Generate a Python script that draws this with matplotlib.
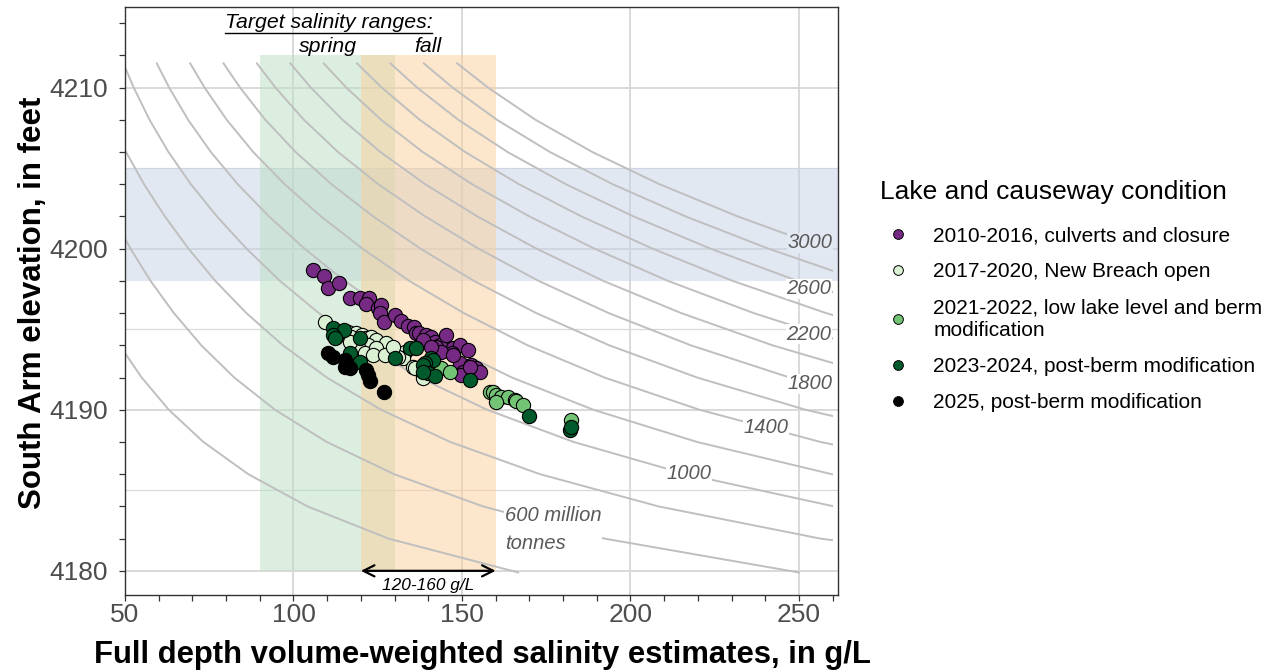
"""South Arm elevation vs. full-depth salinity, with constant salt-load curves."""

import matplotlib
matplotlib.use("Agg")
import matplotlib.pyplot as plt
import numpy as np
from matplotlib.lines import Line2D
from matplotlib.patches import Rectangle

plt.rcParams["font.family"] = ["Liberation Sans", "DejaVu Sans"]

# ---- observations (salinity g/L, elevation ft) ----
culverts_sal = [105.8, 109.1, 110.1, 113.5, 116.7, 119.7, 122.4, 121.4, 125.1, 126.1,
                125.6, 126.9, 130.0, 132.0, 134.0, 135.7, 136.3, 137.4, 139.4, 140.9,
                141.9, 143.4, 145.4, 147.3, 149.3, 151.8, 146.9, 149.3, 152.8, 154.3,
                155.3, 150.3, 142.4, 143.9, 138.5, 140.9, 147.3, 149.8, 152.3]
culverts_elev = [4198.67, 4198.32, 4197.54, 4197.85, 4196.92, 4196.92, 4196.92, 4196.55, 4196.30, 4196.50,
                 4195.99, 4195.47, 4195.88, 4195.53, 4195.22, 4195.16, 4194.75, 4194.75, 4194.64, 4194.54,
                 4194.23, 4194.02, 4194.64, 4193.82, 4194.02, 4193.71, 4193.51, 4192.89, 4192.78, 4192.58,
                 4192.37, 4192.37, 4193.92, 4193.61, 4194.33, 4193.92, 4193.40, 4192.16, 4192.68]

breach_sal = [109.5, 112.7, 116.2, 118.7, 117.2, 120.2, 121.6, 123.1, 124.6, 127.6,
              122.1, 119.1, 116.7, 121.1, 124.6, 123.6, 127.1, 133.0, 132.5, 131.0,
              135.5, 136.0, 138.4, 138.4, 129.6]
breach_elev = [4195.47, 4194.54, 4194.85, 4194.75, 4194.54, 4194.64, 4194.44, 4194.54, 4194.33, 4194.13,
               4194.02, 4193.92, 4194.23, 4193.51, 4193.82, 4193.40, 4193.40, 4193.61, 4193.20, 4193.30,
               4192.68, 4192.58, 4192.16, 4191.96, 4193.90]

lowlake_sal = [143.9, 146.4, 158.2, 159.2, 160.2, 161.7, 163.6, 165.6, 166.1, 168.1, 160.2, 182.5]
lowlake_elev = [4192.58, 4192.37, 4191.08, 4191.13, 4190.92, 4190.82, 4190.80, 4190.61, 4190.55, 4190.30,
                4190.51, 4189.37]

postberm_sal = [111.7, 115.0, 111.7, 112.2, 119.6, 116.7, 119.6, 130.0, 134.5, 136.3,
                140.9, 141.4, 138.9, 138.4, 139.9, 141.9, 138.4, 152.3, 169.8, 182.0, 182.3]
postberm_elev = [4195.06, 4194.95, 4194.64, 4194.44, 4194.44, 4193.51, 4192.95, 4193.20, 4193.82, 4193.82,
                 4193.20, 4193.09, 4192.89, 4192.78, 4192.27, 4192.10, 4192.37, 4191.85, 4189.63, 4188.75, 4188.95]

y2025_sal = [110.2, 111.7, 115.2, 115.2, 116.7, 121.6, 122.1, 122.6, 126.9]
y2025_elev = [4193.51, 4193.30, 4193.09, 4192.68, 4192.58, 4192.47, 4192.16, 4191.81, 4191.10]

group_labels = ["2010-2016, culverts and closure",
                "2017-2020, New Breach open",
                "2021-2022, low lake level and berm\nmodification",
                "2023-2024, post-berm modification",
                "2025, post-berm modification"]
group_colors = ["#762a83", "#d9f0d3", "#74c476", "#005a2b", "#000000"]

# ---- constant salt-load curves: salinity = salt mass / brine volume index ----
profile_elev = [4179.9, 4182, 4184, 4186, 4188, 4190, 4192, 4194, 4196,
                4198, 4200, 4202, 4204, 4206, 4208, 4210, 4211.5]
profile_vol = [2.40, 3.12, 3.84, 4.62, 5.46, 6.35, 7.28, 8.26, 9.30,
               10.42, 11.62, 12.94, 14.38, 15.90, 17.46, 19.02, 20.19]
salt_mass = [400, 600, 800, 1000, 1200, 1400, 1600, 1800, 2000,
             2200, 2400, 2600, 2800, 3000]

# curve labels: text, salinity, elevation
curve_label_text = ["3000", "2600", "2200", "1800", "1400", "1000"]
curve_label_sal = [253.3, 252.9, 252.9, 253.4, 240.3, 217.3]
curve_label_elev = [4200.36, 4197.5, 4194.7, 4191.6, 4188.9, 4186.07]

# target ranges
spring_range = (90, 130)
fall_range = (120, 160)
target_elev = (4180, 4212)
elev_band = (4198, 4205)

XLIM = (50, 261.6)
YLIM = (4178.5, 4215)

fig = plt.figure(figsize=(12.76, 6.72), dpi=100)
W, H = 1276, 672
ax = fig.add_axes([125 / W, 1 - 595 / H, (838 - 125) / W, (595 - 7) / H])
ax.set_xlim(*XLIM)
ax.set_ylim(*YLIM)

# grid
ax.set_xticks(np.arange(50, 251, 50))
ax.set_xticks(np.arange(50, 261, 10), minor=True)
ax.set_yticks(np.arange(4180, 4211, 10))
ax.set_yticks(np.arange(4180, 4215, 2), minor=True)
ax.grid(True, which="major", color="#d9d9d9", lw=1.4, zorder=0)
for e in (4185, 4195, 4205):
    ax.axhline(e, color="#d9d9d9", lw=0.9, zorder=0)
ax.set_axisbelow(True)

ax.tick_params(which="both", direction="out", length=4, width=0.9, color="#333333",
               labelsize=19, labelcolor="#4d4d4d")
ax.tick_params(axis="y", pad=8)
ax.tick_params(axis="x", pad=2)
for s in ax.spines.values():
    s.set_color("#333333")
    s.set_linewidth(1.0)

# shaded ranges
ax.axhspan(*elev_band, color=(199 / 255, 211 / 255, 231 / 255), alpha=0.5, lw=0, zorder=1)
ax.add_patch(Rectangle((spring_range[0], target_elev[0]), spring_range[1] - spring_range[0],
                       target_elev[1] - target_elev[0], color=(185 / 255, 223 / 255, 195 / 255),
                       alpha=0.5, lw=0, zorder=1))
ax.add_patch(Rectangle((fall_range[0], target_elev[0]), fall_range[1] - fall_range[0],
                       target_elev[1] - target_elev[0], color=(251 / 255, 207 / 255, 155 / 255),
                       alpha=0.5, lw=0, zorder=1))

# salt-load curves, stopped a little short of the right edge
vol = np.array(profile_vol)
clip = Rectangle((XLIM[0], YLIM[0]), 260 - XLIM[0], YLIM[1] - YLIM[0], transform=ax.transData)
for m in salt_mass:
    (ln,) = ax.plot(m / vol, profile_elev, color="#bfbfbf", lw=1.4, zorder=2)
    ln.set_clip_path(clip)

for txt, xs, ys in zip(curve_label_text, curve_label_sal, curve_label_elev):
    bg = "#e3e9f3" if elev_band[0] <= ys <= elev_band[1] else "white"
    ax.text(xs, ys, txt, ha="center", va="center", fontsize=14.5, style="italic",
            color="#595959", zorder=3, bbox=dict(facecolor=bg, edgecolor="none", pad=0.5))
ax.text(162.7, 4182.56, "600 million\ntonnes", ha="left", va="center", fontsize=14.5,
        style="italic", color="#595959", linespacing=1.55, zorder=3,
        bbox=dict(facecolor="white", edgecolor="none", pad=0.5))

# observations, oldest first
groups = [(culverts_sal, culverts_elev), (breach_sal, breach_elev), (lowlake_sal, lowlake_elev),
          (postberm_sal, postberm_elev), (y2025_sal, y2025_elev)]
for (xs, ys), c in zip(groups, group_colors):
    ax.scatter(xs, ys, s=105, color=c, edgecolor="black", linewidth=0.8, zorder=5)

# target annotations
t = ax.text(110.4, 4214.05, "Target salinity ranges:", ha="center", va="center",
            fontsize=15.3, style="italic", zorder=6)
ax.text(110.2, 4212.56, "spring", ha="center", va="center", fontsize=15.3, style="italic", zorder=6)
ax.text(139.9, 4212.56, "fall", ha="center", va="center", fontsize=15.3, style="italic", zorder=6)

ax.annotate("", xy=(fall_range[0], target_elev[0]), xytext=(fall_range[1], target_elev[0]),
            arrowprops=dict(arrowstyle="<->", lw=1.6, color="black", mutation_scale=20,
                            shrinkA=0, shrinkB=0), zorder=6)
ax.text(sum(fall_range) / 2, 4179.1, "120-160 g/L", ha="center", va="center",
        fontsize=12.4, style="italic", zorder=6)

# axis titles
fig.text(33 / W, 1 - 303 / H, "South Arm elevation, in feet", rotation=90,
         ha="center", va="center", fontsize=22.5, fontweight="bold")
fig.text(482 / W, 1 - 655 / H, "Full depth volume-weighted salinity estimates, in g/L",
         ha="center", va="center", fontsize=22.3, fontweight="bold")

# legend (title placed separately so the gap to the first key matches)
fig.text(880 / W, 1 - 192 / H, "Lake and causeway condition", ha="left", va="center", fontsize=19)
handles = [Line2D([], [], ls="none", marker="o", markersize=7, markerfacecolor=c,
                  markeredgecolor="black", markeredgewidth=0.7) for c in group_colors]
fig.legend(handles, group_labels, loc="upper left", bbox_to_anchor=(880 / W, 1 - 226 / H),
           frameon=False, fontsize=15, handlelength=1.75, handletextpad=0.8,
           labelspacing=0.83, borderpad=0, borderaxespad=0)

# underline the target heading
fig.canvas.draw()
bb = t.get_window_extent()
fig.add_artist(Line2D([bb.x0 / W, bb.x1 / W], [(bb.y0 - 1) / H] * 2,
                      transform=fig.transFigure, color="black", lw=1.0))

fig.savefig("out.png", dpi=100)
